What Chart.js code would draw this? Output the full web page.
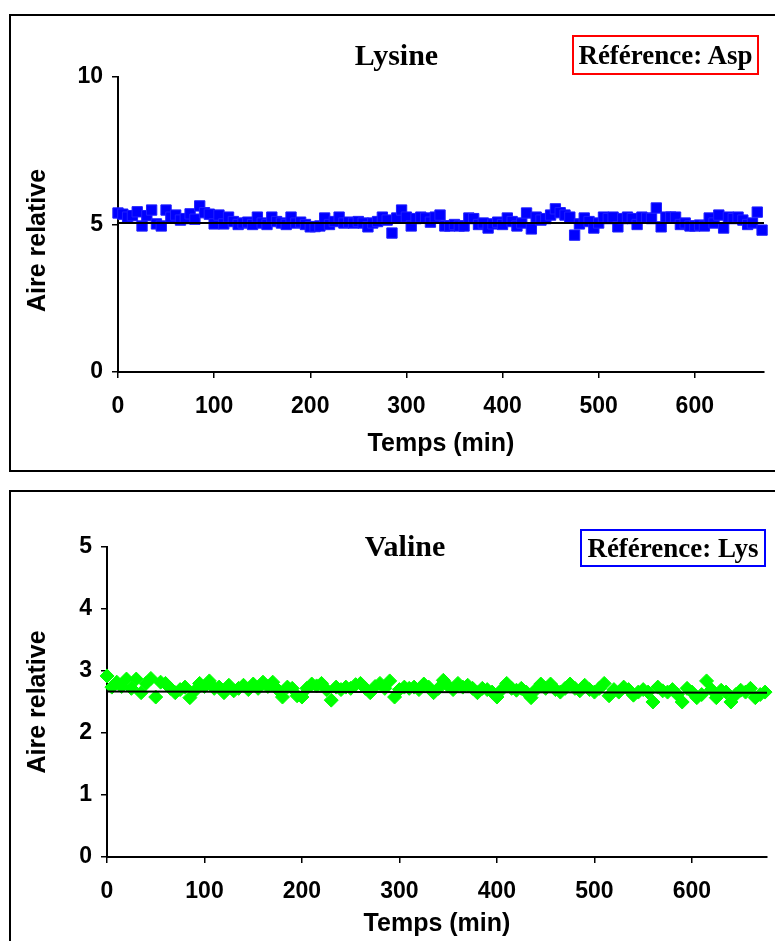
<!DOCTYPE html>
<html>
<head>
<meta charset="utf-8">
<script src="https://cdn.jsdelivr.net/npm/chart.js@4.4.1/dist/chart.umd.min.js"></script>
<style>
    html, body { margin: 0; padding: 0; background: #fff; overflow: hidden; }
    body { width: 775px; height: 941px; position: relative; }
    .frame { position: absolute; left: 9px; width: 900px; border: 2px solid #000; box-sizing: border-box; }
    .plot { position: absolute; left: 0; width: 775px; height: 480px; }
    .ref { position: absolute; box-sizing: border-box; border: 2px solid; font: bold 27px "Liberation Serif", serif;
           color: #000; text-align: center; white-space: nowrap; }
</style>
</head>
<body>
<div class="frame" style="top:14px;height:458px"></div>
<div class="frame" style="top:490px;height:600px"></div>
<div class="plot" style="top:0"><canvas id="lysine"></canvas></div>
<div class="plot" style="top:480px"><canvas id="valine"></canvas></div>
<div class="ref" style="left:572px;top:35px;width:187px;height:40px;line-height:36px;border-color:#ff0000">Référence: Asp</div>
<div class="ref" style="left:580px;top:529px;width:186px;height:38px;line-height:34px;border-color:#0000ff">Référence: Lys</div>

<script>
"use strict";

// sampling every 5 min
const sampleStep = 5;

const lysineValues = [
    5.39, 5.35, 5.25, 5.30, 5.43, 4.95, 5.30, 5.49, 5.02, 4.95,
    5.49, 5.25, 5.32, 5.15, 5.20, 5.36, 5.18, 5.63, 5.40, 5.35,
    5.02, 5.32, 5.02, 5.25, 5.10, 5.00, 5.05, 5.08, 5.00, 5.25,
    5.05, 5.00, 5.25, 5.10, 5.05, 5.00, 5.25, 5.05, 5.08, 5.00,
    4.92, 4.93, 4.95, 5.22, 5.00, 5.10, 5.25, 5.05, 5.08, 5.05,
    5.10, 5.05, 4.92, 5.05, 5.10, 5.25, 5.15, 4.71, 5.22, 5.49,
    5.25, 4.95, 5.20, 5.25, 5.22, 5.08, 5.25, 5.32, 4.95, 4.95,
    5.00, 4.95, 4.95, 5.22, 5.20, 5.00, 5.05, 4.88, 5.02, 5.08,
    5.00, 5.22, 5.10, 4.95, 5.05, 5.39, 4.85, 5.25, 5.15, 5.20,
    5.32, 5.53, 5.40, 5.32, 5.25, 4.64, 5.02, 5.22, 5.10, 4.88,
    5.05, 5.25, 5.20, 5.25, 4.92, 5.20, 5.25, 5.20, 5.00, 5.25,
    5.22, 5.20, 5.56, 4.92, 5.25, 5.25, 5.25, 5.00, 5.05, 4.95,
    4.95, 4.98, 4.95, 5.22, 5.05, 5.32, 4.88, 5.25, 5.20, 5.25,
    5.15, 5.00, 5.05, 5.42, 4.81
];

const valineValues = [
    2.92, 2.74, 2.82, 2.75, 2.87, 2.72, 2.87, 2.65, 2.80, 2.88,
    2.58, 2.82, 2.80, 2.72, 2.65, 2.70, 2.74, 2.57, 2.68, 2.80,
    2.75, 2.84, 2.72, 2.74, 2.65, 2.77, 2.68, 2.72, 2.77, 2.70,
    2.79, 2.72, 2.82, 2.75, 2.82, 2.70, 2.58, 2.74, 2.72, 2.60,
    2.58, 2.72, 2.79, 2.76, 2.80, 2.70, 2.53, 2.74, 2.70, 2.74,
    2.72, 2.78, 2.80, 2.72, 2.65, 2.75, 2.80, 2.72, 2.84, 2.58,
    2.70, 2.74, 2.72, 2.74, 2.70, 2.79, 2.74, 2.65, 2.72, 2.85,
    2.76, 2.70, 2.80, 2.74, 2.77, 2.72, 2.65, 2.72, 2.70, 2.66,
    2.58, 2.70, 2.80, 2.72, 2.69, 2.72, 2.66, 2.57, 2.70, 2.79,
    2.72, 2.79, 2.70, 2.66, 2.72, 2.79, 2.72, 2.68, 2.77, 2.70,
    2.66, 2.72, 2.80, 2.60, 2.70, 2.66, 2.74, 2.70, 2.61, 2.66,
    2.70, 2.66, 2.50, 2.74, 2.68, 2.66, 2.70, 2.62, 2.50, 2.72,
    2.66, 2.57, 2.62, 2.84, 2.70, 2.57, 2.69, 2.66, 2.50, 2.62,
    2.69, 2.66, 2.72, 2.57, 2.62, 2.66
];

// mean lines (start / end of the run)
const lysineTrendX = [0, 672];
const lysineTrend = [5.05, 5.05];
const valineTrendX = [0, 677];
const valineTrend = [2.67, 2.65];

const xTicks = [0, 100, 200, 300, 400, 500, 600];
const lysineYTicks = [0, 5, 10];
const valineYTicks = [0, 1, 2, 3, 4, 5];

const sansBold = (size) => ({ family: 'Liberation Sans, Arial, sans-serif', size: size, weight: 'bold' });

function toPoints(values) {
    return values.map((v, i) => ({ x: i * sampleStep, y: v }));
}

function buildChart(id, opt) {
    const ctx = document.getElementById(id).getContext('2d');
    return new Chart(ctx, {
        type: 'scatter',
        data: {
            datasets: [{
                type: 'line',
                data: opt.trendX.map((x, i) => ({ x: x, y: opt.trend[i] })),
                borderColor: '#000',
                borderWidth: 2,
                pointRadius: 0,
                clip: false
            }, {
                data: toPoints(opt.values),
                pointStyle: opt.marker,
                pointRadius: opt.radius,
                backgroundColor: opt.color,
                borderColor: opt.border,
                borderWidth: 1,
                clip: false
            }]
        },
        options: {
            responsive: true,
            maintainAspectRatio: false,
            animation: false,
            layout: { padding: opt.padding },
            plugins: {
                legend: { display: false },
                tooltip: { enabled: false },
                title: {
                    display: true,
                    text: opt.title,
                    color: '#000',
                    font: { family: 'Liberation Serif, serif', size: 30, weight: 'bold' },
                    padding: opt.titlePadding
                }
            },
            scales: {
                x: {
                    type: 'linear',
                    min: 0,
                    max: opt.xMax,
                    afterBuildTicks: s => { s.ticks = xTicks.map(v => ({ value: v })); },
                    afterFit: s => { s.height = 100; },
                    ticks: { color: '#000', font: sansBold(23), padding: 15, maxRotation: 0 },
                    grid: { drawOnChartArea: false, tickLength: 6, color: '#000', lineWidth: 1.5 },
                    border: { color: '#000', width: 2 },
                    title: { display: true, text: 'Temps (min)', color: '#000', font: sansBold(25), padding: { top: 0, bottom: opt.xTitlePad } }
                },
                y: {
                    min: 0,
                    max: opt.yMax,
                    afterBuildTicks: s => { s.ticks = opt.yTicks.map(v => ({ value: v })); },
                    afterFit: s => { s.width = opt.yWidth; },
                    ticks: { color: '#000', font: sansBold(23), padding: 9 },
                    grid: { drawOnChartArea: false, tickLength: 6, color: '#000', lineWidth: 1.5 },
                    border: { color: '#000', width: 2 },
                    // trailing spaces push the rotated label a bit lower, as in the original
                    title: { display: true, text: opt.yTitle, color: '#000', font: sansBold(25), padding: { top: opt.yTitlePad, bottom: 0 } }
                }
            }
        }
    });
}

window.onload = function () {
    window.lysineChart = buildChart('lysine', {
        title: 'Lysine',
        yTitle: 'Aire relative\u2002\u2002 ',
        values: lysineValues,
        trendX: lysineTrendX,
        trend: lysineTrend,
        marker: 'rect',
        radius: 7.3,
        color: '#0000ff',
        border: '#1f1fff',
        xMax: 672,
        yMax: 10,
        yTicks: lysineYTicks,
        padding: { left: 29, right: 11, top: 0, bottom: 8 },
        titlePadding: { top: 39, bottom: 2 },
        xTitlePad: 13,
        yWidth: 89,
        yTitlePad: -6
    });

    window.valineChart = buildChart('valine', {
        title: 'Valine',
        yTitle: 'Aire relative',
        values: valineValues,
        trendX: valineTrendX,
        trend: valineTrend,
        marker: 'rectRot',
        radius: 7,
        color: '#00ff00',
        border: '#00ff00',
        xMax: 677,
        yMax: 5,
        yTicks: valineYTicks,
        padding: { left: 37, right: 2, top: 0, bottom: 3 },
        titlePadding: { top: 50, bottom: -19 },
        xTitlePad: 18,
        yWidth: 70,
        yTitlePad: -14
    });
};
</script>
</body>
</html>
